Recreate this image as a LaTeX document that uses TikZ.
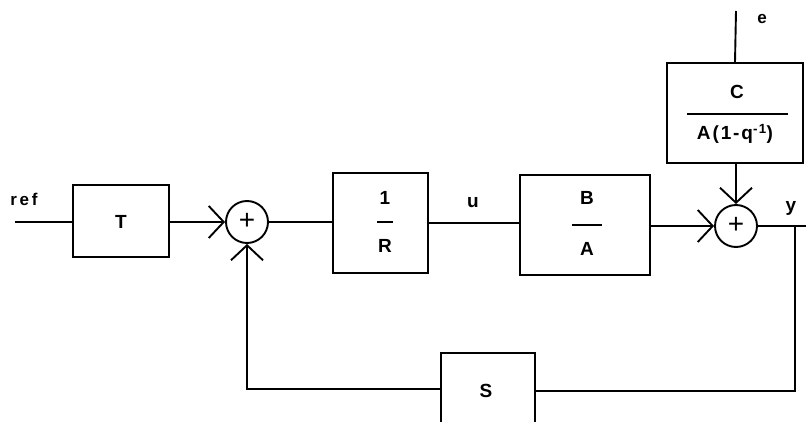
\documentclass[tikz,border=0pt]{standalone}
\usepackage{fontspec}
\setmainfont[LetterSpace=10]{Liberation Sans}
\newfontfamily\boldspaced[LetterSpace=16]{Liberation Sans Bold}
\newfontfamily\plainplus{Liberation Sans}
\usetikzlibrary{arrows.meta}
\begin{document}
\begin{tikzpicture}[x=1pt,y=-1pt,line width=1.9pt,
  every node/.style={font=\fontsize{19}{22}\selectfont\bfseries},
  blk/.style={draw,inner sep=0pt,line width=1.9pt},
  sumnode/.style={draw,circle,inner sep=0pt,minimum size=42pt,line width=1.9pt},
  lbl/.style={inner sep=0pt},
  plus/.style={inner sep=0pt,font=\plainplus\fontsize{28}{30}\selectfont},
  sig/.style={line width=1.9pt},
  arr/.style={sig,-{Straight Barb[length=15pt,width=32pt,line width=1.9pt]}}]
\useasboundingbox (0,0) rectangle (806,422);
\clip (0,0) rectangle (806,422);
% blocks
\node[blk,minimum width=96pt,minimum height=72pt] (T) at (121,221) {};
\node[lbl] (Tt) at (121,222) {T};
\node[sumnode] (s1) at (247,222) {};
\node[plus] (s1p) at (247,221) {+};
\node[blk,minimum width=95pt,minimum height=100pt] (R) at (380.5,223) {};
\node[lbl] (Rnum) at (385,198) {1};
\node[lbl] (Rden) at (385,246) {R};
\draw[sig] (377,222) -- (393,222);
\node[blk,minimum width=130pt,minimum height=100pt] (BA) at (585,225) {};
\node[lbl] (Bn) at (587,198) {B};
\node[lbl] (Ad) at (587,249) {A};
\draw[sig] (572,225) -- (602,225);
\node[blk,minimum width=136pt,minimum height=100pt] (C) at (735,113) {};
\node[lbl] (Cn) at (737,92) {C};
\node[lbl] (Cd) at (735,134) {A(1-q\textsuperscript{-1})};
\draw[sig] (687,114) -- (788,114);
\node[sumnode] (s2) at (736,226) {};
\node[plus] (s2p) at (736,225) {+};
\node[blk,minimum width=94pt,minimum height=100pt] (S) at (488,403) {};
\node[lbl] (St) at (486,391) {S};
% labels
\node[lbl] (ref) at (24,199) {\boldspaced\fontsize{17}{19}\selectfont ref};
\node[lbl] (u) at (473,203) {u};
\node[lbl] (e) at (762,19) {\fontsize{17}{19}\selectfont e};
\node[lbl] (y) at (791,208) {y};
% coordinates
\coordinate (refin) at (15,222);
\coordinate (ein) at (736,11);
\coordinate (yout) at (806,226);
\coordinate (tap) at (795,226);
\coordinate (fbR) at (795,391);
\coordinate (fbL) at (247,389);
% connectors
\draw[sig] (refin) -- (refin -| T.west);
\draw[arr] (T.east |- s1.west) -- (s1.west);
\draw[sig] (s1.east) -- (s1.east -| R.west);
\draw[sig] (R.east) -- (R.east -| BA.west);
\draw[arr] (BA.east |- s2.west) -- (s2.west);
\draw[sig] (ein) -- (C.north);
\draw[arr] (C.south -| s2.north) -- (s2.north);
\draw[sig] (s2.east) -- (yout);
\draw[sig] (tap) -- (fbR) -- (fbR -| S.east);
\draw[arr] (fbL -| S.west) -- (fbL) -- (s1.south);
\end{tikzpicture}
\end{document}
